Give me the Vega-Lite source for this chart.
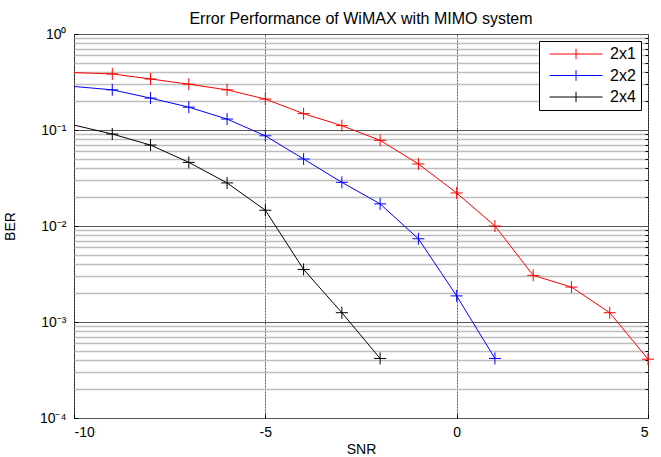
{
  "$schema": "https://vega.github.io/schema/vega-lite/v6.json",
  "autosize": {"type": "none"},
  "padding": {"left": 74, "top": 34, "right": 13, "bottom": 39},
  "width": 574,
  "height": 384,
  "background": "white",
  "title": {"text": "Error Performance of WiMAX with MIMO system", "font": "Liberation Sans", "fontSize": 16, "fontWeight": "normal", "color": "#000000", "offset": 0},
  "config": {
    "view": {"stroke": "#000000", "strokeWidth": 1},
    "axis": {"labelFont": "Liberation Sans", "titleFont": "Liberation Sans", "labelColor": "#000000", "titleColor": "#000000", "labelFontSize": 14, "titleFontSize": 14, "titleFontWeight": "normal", "domainColor": "#000000", "tickColor": "#000000"}
  },
  "data": {"values": [
    {"snr": -10, "ber": 0.396, "config": "2x1"},
    {"snr": -9, "ber": 0.384, "config": "2x1"},
    {"snr": -8, "ber": 0.34, "config": "2x1"},
    {"snr": -7, "ber": 0.30, "config": "2x1"},
    {"snr": -6, "ber": 0.262, "config": "2x1"},
    {"snr": -5, "ber": 0.21, "config": "2x1"},
    {"snr": -4, "ber": 0.148, "config": "2x1"},
    {"snr": -3, "ber": 0.111, "config": "2x1"},
    {"snr": -2, "ber": 0.078, "config": "2x1"},
    {"snr": -1, "ber": 0.0443, "config": "2x1"},
    {"snr": 0, "ber": 0.0221, "config": "2x1"},
    {"snr": 1, "ber": 0.0100, "config": "2x1"},
    {"snr": 2, "ber": 0.00306, "config": "2x1"},
    {"snr": 3, "ber": 0.00231, "config": "2x1"},
    {"snr": 4, "ber": 0.00125, "config": "2x1"},
    {"snr": 5, "ber": 0.00041, "config": "2x1"},
    {"snr": -10, "ber": 0.284, "config": "2x2"},
    {"snr": -9, "ber": 0.262, "config": "2x2"},
    {"snr": -8, "ber": 0.215, "config": "2x2"},
    {"snr": -7, "ber": 0.173, "config": "2x2"},
    {"snr": -6, "ber": 0.13, "config": "2x2"},
    {"snr": -5, "ber": 0.087, "config": "2x2"},
    {"snr": -4, "ber": 0.0499, "config": "2x2"},
    {"snr": -3, "ber": 0.0285, "config": "2x2"},
    {"snr": -2, "ber": 0.017, "config": "2x2"},
    {"snr": -1, "ber": 0.00736, "config": "2x2"},
    {"snr": 0, "ber": 0.00187, "config": "2x2"},
    {"snr": 1, "ber": 0.000417, "config": "2x2"},
    {"snr": -10, "ber": 0.1125, "config": "2x4"},
    {"snr": -9, "ber": 0.0908, "config": "2x4"},
    {"snr": -8, "ber": 0.0697, "config": "2x4"},
    {"snr": -7, "ber": 0.046, "config": "2x4"},
    {"snr": -6, "ber": 0.0281, "config": "2x4"},
    {"snr": -5, "ber": 0.0146, "config": "2x4"},
    {"snr": -4, "ber": 0.00353, "config": "2x4"},
    {"snr": -3, "ber": 0.00125, "config": "2x4"},
    {"snr": -2, "ber": 0.000417, "config": "2x4"}
  ]},
  "resolve": {"axis": {"y": "independent"}},
  "layer": [
    {
      "mark": {"type": "line", "strokeWidth": 1, "clip": true},
      "encoding": {
        "x": {"field": "snr", "type": "quantitative", "scale": {"domain": [-10, 5], "nice": false, "zero": false},
              "axis": {"title": "SNR", "values": [-10, -5, 0, 5], "labelExpr": "'' + datum.value", "grid": true, "gridColor": "#555555", "gridDash": [2, 1], "gridOpacity": 1, "ticks": true, "tickSize": -4, "labelPadding": 11, "titlePadding": 3, "domain": false}},
        "y": {"field": "ber", "type": "quantitative", "scale": {"type": "log", "domain": [0.0001, 1], "nice": false},
              "axis": {"title": "BER", "orient": "left", "values": [0.0001, 0.001, 0.01, 0.1, 1], "grid": true, "gridColor": "#555555", "gridOpacity": 1, "ticks": true, "tickSize": -4, "labelPadding": 12, "titlePadding": 22, "domain": false,
                       "labelExpr": "datum.value > 0.5 ? '10⁰' : datum.value > 0.05 ? '10⁻¹' : datum.value > 0.005 ? '10⁻²' : datum.value > 0.0005 ? '10⁻³' : '10⁻⁴'"}},
        "color": {"field": "config", "type": "nominal", "scale": {"domain": ["2x1", "2x2", "2x4"], "range": ["#ff0000", "#0000ff", "#000000"]},
                  "legend": {"title": null, "orient": "top-right", "offset": 7, "symbolType": "M-0.81,0H1.19M0.19,-0.2V0.2", "symbolSize": 2800, "symbolStrokeWidth": 1, "labelFont": "Liberation Sans", "labelFontSize": 16, "labelColor": "#000000", "strokeColor": "#000000", "fillColor": "#ffffff", "padding": 5, "clipHeight": 16, "rowPadding": 5.5, "labelOffset": 12}}
      }
    },
    {
      "transform": [{"filter": "datum.snr > -10"}],
      "mark": {"type": "point", "shape": "M-1,0H1M0,-1V1", "filled": false, "size": 144, "strokeWidth": 1, "opacity": 1},
      "encoding": {
        "x": {"field": "snr", "type": "quantitative"},
        "y": {"field": "ber", "type": "quantitative", "scale": {"type": "log", "domain": [0.0001, 1], "nice": false},
              "axis": {"title": null, "orient": "right", "labels": false, "values": [0.0002, 0.0003, 0.0004, 0.0005, 0.0006, 0.0007, 0.0008, 0.0009, 0.002, 0.003, 0.004, 0.005, 0.006, 0.007, 0.008, 0.009, 0.02, 0.03, 0.04, 0.05, 0.06, 0.07, 0.08, 0.09, 0.2, 0.3, 0.4, 0.5, 0.6, 0.7, 0.8, 0.9],
                       "grid": true, "gridColor": "#bdbdbd", "gridOpacity": 1, "gridWidth": 1.3, "ticks": true, "tickSize": -3, "domain": false}},
        "color": {"field": "config", "type": "nominal"}
      }
    }
  ]
}
